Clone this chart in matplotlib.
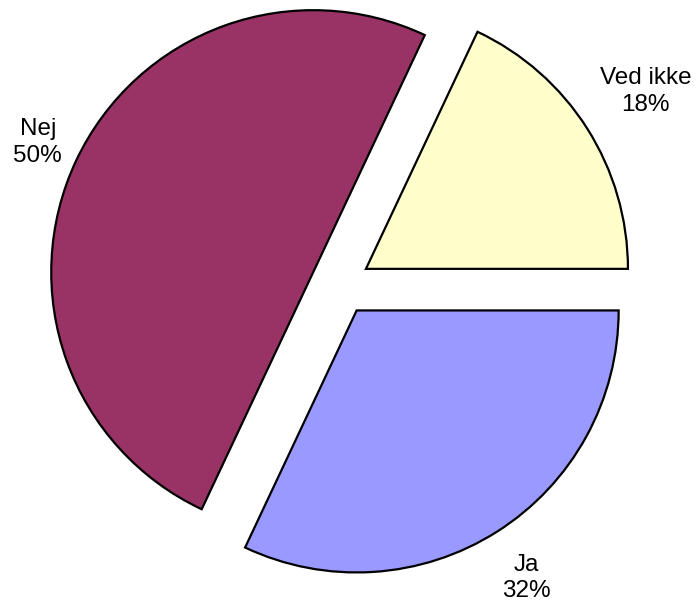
import numpy as np
import matplotlib.pyplot as plt

# svarfordeling
labels = ['Ved ikke', 'Nej', 'Ja']
values = [18, 50, 32]
colors = ['#FFFFCC', '#993366', '#9999FF']
# afstand fra centrum til hver etiket (i radier)
label_dist = [1.378, 1.277, 1.325]

plt.rcParams['font.family'] = ['Liberation Sans', 'DejaVu Sans']

fig = plt.figure(figsize=(6.99, 6.08), dpi=100)
ax = fig.add_axes([0, 0, 1, 1])

wedges, _ = ax.pie(values, colors=colors, startangle=0, counterclock=True,
                   explode=[0.115] * len(values), radius=1.0,
                   wedgeprops=dict(edgecolor='black', linewidth=1.6))

# etiketter ved midtvinklen af hvert stykke
total = sum(values)
start = 0.0
for name, v, d in zip(labels, values, label_dist):
    mid = np.deg2rad(start + 360.0 * v / total / 2)
    ax.text(d * np.cos(mid), d * np.sin(mid), f'{name}\n{v}%',
            ha='center', va='center', fontsize=17.5, linespacing=1.25)
    start += 360.0 * v / total

# 1 enhed = 262 px, centrum i (340.5, 323) px fra nederste venstre hjoerne
s = 262.0
ax.set_xlim(-340.5 / s, (699 - 340.5) / s)
ax.set_ylim(-323 / s, (608 - 323) / s)
ax.set_aspect('equal')
ax.axis('off')

fig.savefig('out.png', dpi=100, facecolor='white')
